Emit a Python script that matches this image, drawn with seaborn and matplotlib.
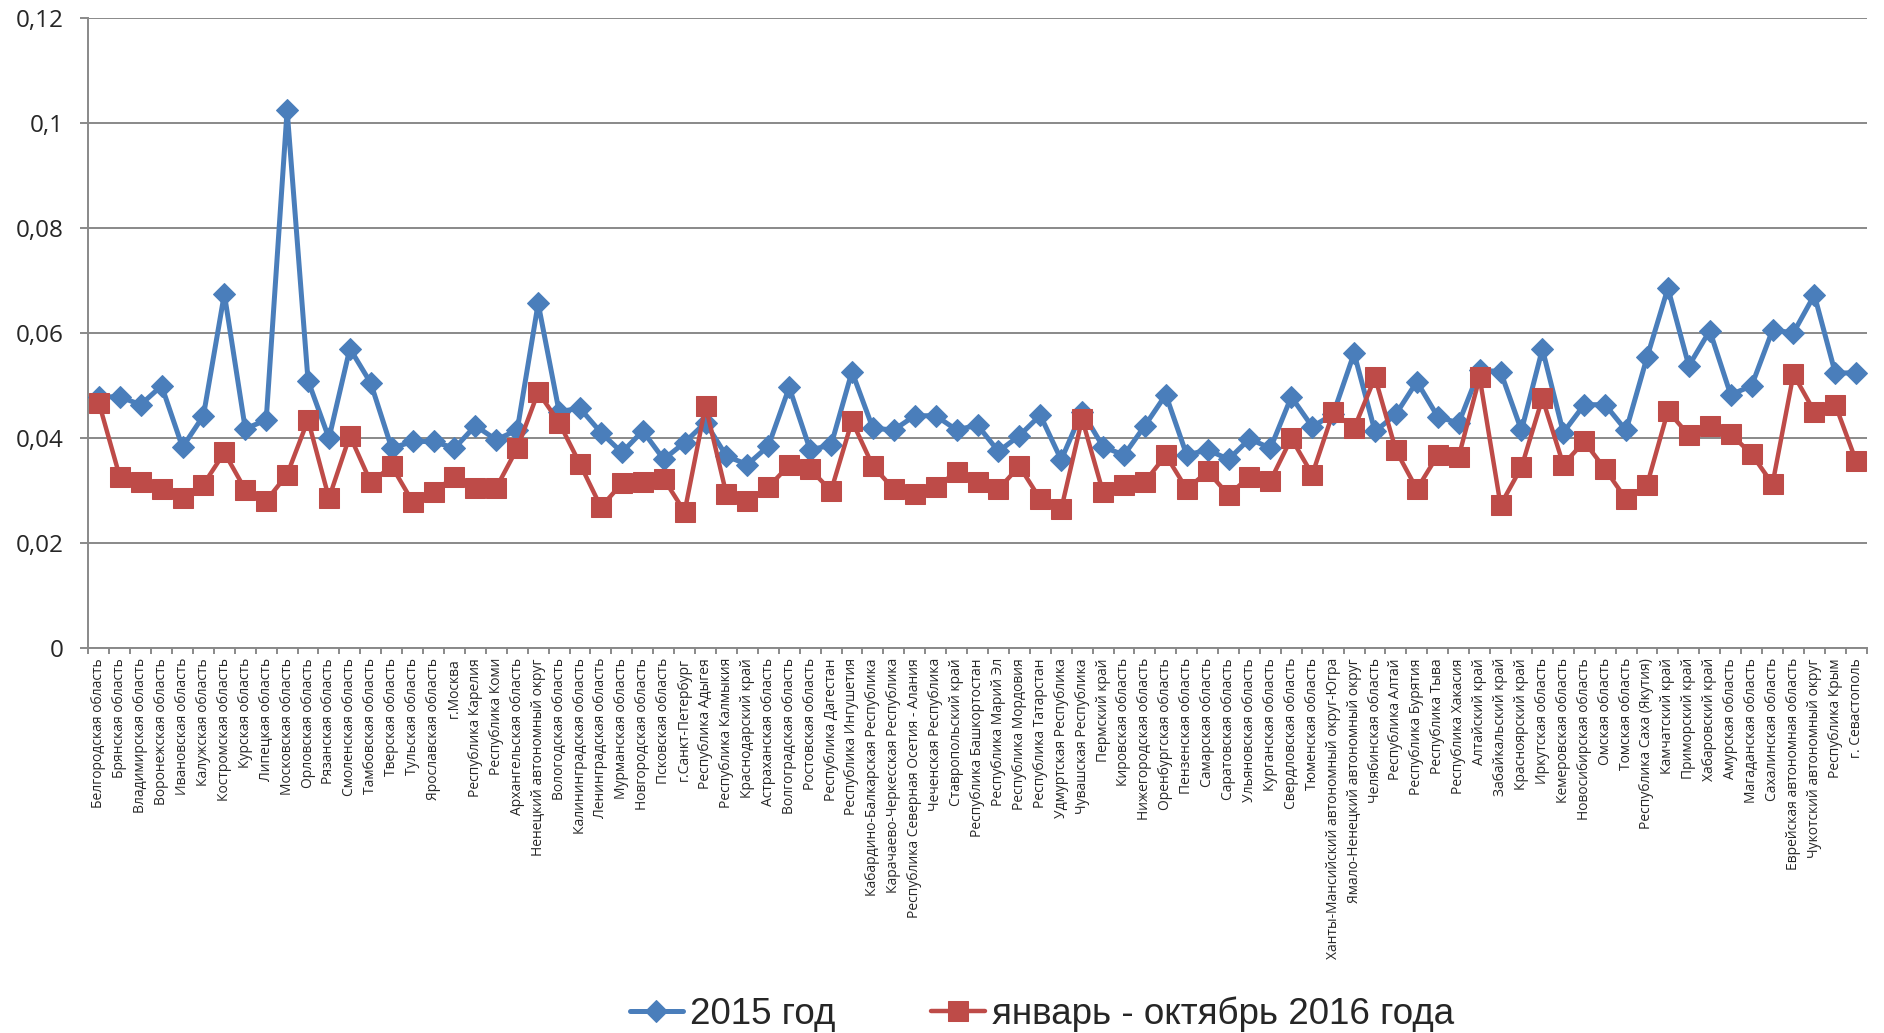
import numpy as np
import pandas as pd
import seaborn as sns
import matplotlib
matplotlib.use("Agg")
import matplotlib.pyplot as plt
from matplotlib import font_manager
from matplotlib.font_manager import FontProperties

regions = [
    "Белгородская область", "Брянская область", "Владимирская область", "Воронежская область",
    "Ивановская область", "Калужская область", "Костромская область", "Курская область",
    "Липецкая область", "Московская область", "Орловская область", "Рязанская область",
    "Смоленская область", "Тамбовская область", "Тверская область", "Тульская область",
    "Ярославская область", "г.Москва", "Республика Карелия", "Республика Коми",
    "Архангельская область", "Ненецкий автономный округ", "Вологодская область",
    "Калининградская область", "Ленинградская область", "Мурманская область",
    "Новгородская область", "Псковская область", "г.Санкт-Петербург", "Республика Адыгея",
    "Республика Калмыкия", "Краснодарский край", "Астраханская область", "Волгоградская область",
    "Ростовская область", "Республика Дагестан", "Республика Ингушетия",
    "Кабардино-Балкарская Республика", "Карачаево-Черкесская Республика",
    "Республика Северная Осетия - Алания", "Чеченская Республика", "Ставропольский край",
    "Республика Башкортостан", "Республика Марий Эл", "Республика Мордовия",
    "Республика Татарстан", "Удмуртская Республика", "Чувашская Республика", "Пермский край",
    "Кировская область", "Нижегородская область", "Оренбургская область", "Пензенская область",
    "Самарская область", "Саратовская область", "Ульяновская область", "Курганская область",
    "Свердловская область", "Тюменская область", "Ханты-Мансийский автономный округ-Югра",
    "Ямало-Ненецкий автономный округ", "Челябинская область", "Республика Алтай",
    "Республика Бурятия", "Республика Тыва", "Республика Хакасия", "Алтайский край",
    "Забайкальский край", "Красноярский край", "Иркутская область", "Кемеровская область",
    "Новосибирская область", "Омская область", "Томская область", "Республика Саха (Якутия)",
    "Камчатский край", "Приморский край", "Хабаровский край", "Амурская область",
    "Магаданская область", "Сахалинская область", "Еврейская автономная область",
    "Чукотский автономный округ", "Республика Крым", "г. Севастополь",
]

values_2015 = [
    0.0479, 0.0479, 0.0464, 0.0500, 0.0383, 0.0443, 0.0675, 0.0418, 0.0435, 0.1025,
    0.0510, 0.0400, 0.0571, 0.0505, 0.0381, 0.0394, 0.0394, 0.0381, 0.0424, 0.0397,
    0.0416, 0.0657, 0.0451, 0.0457, 0.0411, 0.0373, 0.0414, 0.0360, 0.0392, 0.0430,
    0.0366, 0.0350, 0.0385, 0.0497, 0.0378, 0.0387, 0.0527, 0.0419, 0.0416, 0.0443,
    0.0443, 0.0416, 0.0425, 0.0375, 0.0405, 0.0444, 0.0359, 0.0451, 0.0384, 0.0368,
    0.0424, 0.0483, 0.0368, 0.0378, 0.0360, 0.0399, 0.0381, 0.0479, 0.0422, 0.0446,
    0.0562, 0.0413, 0.0446, 0.0508, 0.0441, 0.0429, 0.0530, 0.0527, 0.0415, 0.0570,
    0.0411, 0.0464, 0.0464, 0.0415, 0.0554, 0.0686, 0.0538, 0.0605, 0.0483, 0.0500,
    0.0606, 0.0601, 0.0673, 0.0524, 0.0525,
]

values_2016 = [
    0.0468, 0.0327, 0.0317, 0.0303, 0.0286, 0.0312, 0.0373, 0.0302, 0.0281, 0.0331,
    0.0435, 0.0286, 0.0405, 0.0316, 0.0347, 0.0279, 0.0298, 0.0327, 0.0306, 0.0306,
    0.0381, 0.0488, 0.0430, 0.0351, 0.0269, 0.0314, 0.0316, 0.0323, 0.0260, 0.0462,
    0.0293, 0.0281, 0.0307, 0.0349, 0.0341, 0.0300, 0.0433, 0.0347, 0.0303, 0.0294,
    0.0308, 0.0335, 0.0316, 0.0303, 0.0347, 0.0284, 0.0265, 0.0437, 0.0297, 0.0311,
    0.0317, 0.0368, 0.0303, 0.0337, 0.0292, 0.0327, 0.0319, 0.0400, 0.0331, 0.0450,
    0.0419, 0.0516, 0.0377, 0.0303, 0.0368, 0.0365, 0.0516, 0.0273, 0.0345, 0.0476,
    0.0350, 0.0394, 0.0341, 0.0284, 0.0311, 0.0452, 0.0406, 0.0424, 0.0408, 0.0370,
    0.0313, 0.0522, 0.0451, 0.0464, 0.0356,
]

series_names = ["2015 год", "январь - октябрь 2016 года"]
ytick_values = [0, 0.02, 0.04, 0.06, 0.08, 0.10, 0.12]
ytick_labels = ["0", "0,02", "0,04", "0,06", "0,08", "0,1", "0,12"]

BLUE = "#4A7EBB"
RED = "#BE4B48"
GRID = "#898989"

sns.set_theme(style="white")
plt.rcParams["font.family"] = ["Open Sans", "DejaVu Sans"]

available = {f.name for f in font_manager.fontManager.ttflist}
legend_family = "Liberation Sans Narrow" if "Liberation Sans Narrow" in available else "Liberation Sans"

idx = np.arange(len(regions))
df = pd.DataFrame({"idx": idx, "v2015": values_2015, "v2016": values_2016})

fig = plt.figure(figsize=(18.84, 10.33), dpi=100)
ax = fig.add_axes([0.0469, 0.3724, 0.9439, 0.6099])

sns.lineplot(data=df, x="idx", y="v2015", ax=ax, color=BLUE, linewidth=3.6,
             marker="D", markersize=11, markeredgecolor=BLUE, markerfacecolor=BLUE,
             label=series_names[0], errorbar=None, zorder=3)
sns.lineplot(data=df, x="idx", y="v2016", ax=ax, color=RED, linewidth=3.2,
             marker="s", markersize=14, markeredgecolor=RED, markerfacecolor=RED,
             label=series_names[1], errorbar=None, zorder=4)

ax.set_xlim(-0.5, len(regions) - 0.5)
ax.set_ylim(0, 0.12)
ax.set_yticks(ytick_values)
ax.set_yticklabels(ytick_labels)
ax.yaxis.grid(True, color=GRID, linewidth=1.4)
ax.xaxis.grid(False)
ax.set_axisbelow(True)

ax.set_xticks(idx)
ax.set_xticklabels(regions, rotation=90, ha="center", va="top")
ax.set_xticks(np.arange(len(regions) + 1) - 0.5, minor=True)
ax.tick_params(axis="x", which="major", length=0, pad=7, labelsize=10)
ax.tick_params(axis="x", which="minor", length=4, width=1.4, color=GRID, bottom=True)
ax.tick_params(axis="y", length=6, width=1.4, color=GRID, pad=12, labelsize=17.5, left=True)

for s in ["top", "right"]:
    ax.spines[s].set_visible(False)
for s in ["left", "bottom"]:
    ax.spines[s].set_color(GRID)
    ax.spines[s].set_linewidth(1.4)

ax.set_xlabel("")
ax.set_ylabel("")

handles, labels = ax.get_legend_handles_labels()
ax.get_legend().remove()
fig.legend(handles, labels, loc="center", bbox_to_anchor=(0.553, 0.018), ncol=2,
           frameon=False, prop=FontProperties(family=[legend_family, "DejaVu Sans"], size=26.5),
           handlelength=1.45, handletextpad=0.2, columnspacing=2.6)

fig.savefig("out.png", dpi=100)
